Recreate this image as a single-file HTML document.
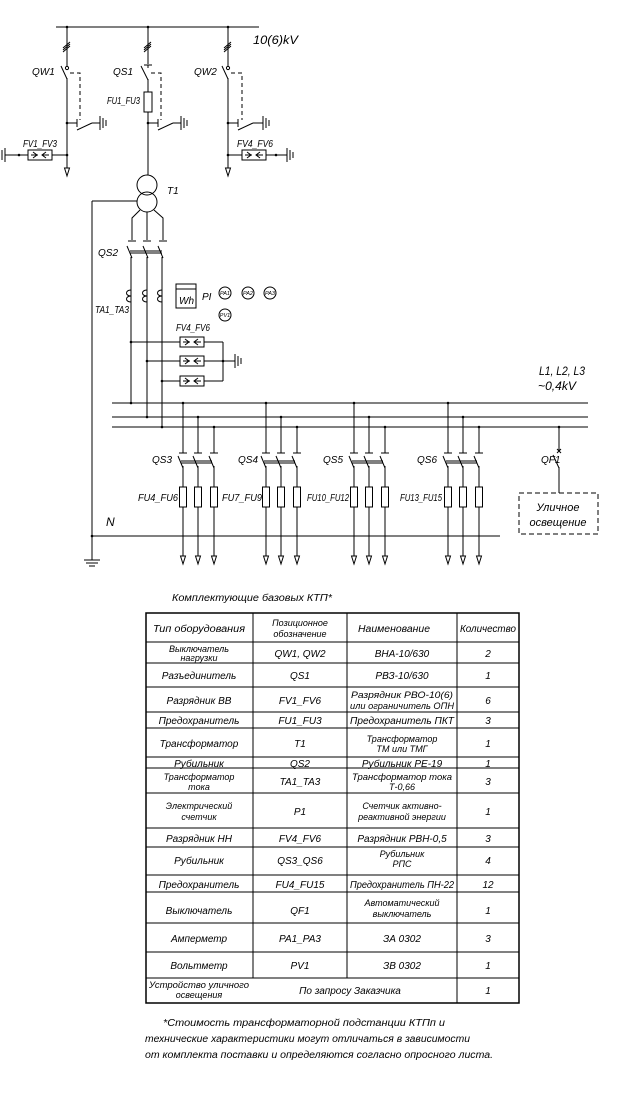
<!DOCTYPE html>
<html><head><meta charset="utf-8"><style>
html,body{margin:0;padding:0;background:#fff}
svg{display:block}
text{font-family:"Liberation Sans Narrow","Liberation Sans",sans-serif;font-style:italic;fill:#000}
</style></head><body>
<svg width="630" height="1100" viewBox="0 0 630 1100" xmlns="http://www.w3.org/2000/svg">
<defs>
<g id="gnd" stroke="#000" stroke-width="1" fill="none">
<line x1="0" y1="-7" x2="0" y2="7"/><line x1="3" y1="-5" x2="3" y2="5"/><line x1="6" y1="-3" x2="6" y2="3"/>
</g>
<g id="arr" stroke="#000" stroke-width="1" fill="none"><path d="M-2.5,-5 L0,3 L2.5,-5 Z"/></g>
<g id="fv" stroke="#000" stroke-width="1" fill="#fff">
<rect x="0" y="-5" width="24" height="10"/><path d="M5,-3 L9,0 L5,3 M18,-3 L14,0 L18,3" fill="none"/><line x1="3" y1="0" x2="10" y2="0"/><line x1="14" y1="0" x2="21" y2="0"/>
</g>
<g id="grp" stroke="#000" stroke-width="1" fill="none">
<path d="M0,403 L0,453 M15,417 L15,453 M31,427 L31,453"/>
<path d="M-4,453 L4,453 M11,453 L19,453 M27,453 L35,453"/>
<path d="M-5,456 L0,468 M10,456 L15,468 M26,456 L31,468"/>
<path d="M-2,461 L29,461 M-2,463 L29,463"/>
<path d="M0,466 L0,487 M15,466 L15,487 M31,466 L31,487"/>
<rect x="-3.5" y="487" width="7" height="20"/><rect x="11.5" y="487" width="7" height="20"/><rect x="27.5" y="487" width="7" height="20"/>
<path d="M0,507 L0,556 M15,507 L15,556 M31,507 L31,556"/>
<path d="M-2.5,556 L0,564 L2.5,556 Z M12.5,556 L15,564 L17.5,556 Z M28.5,556 L31,564 L33.5,556 Z"/>
</g>
</defs>
<g stroke="#000" stroke-width="1" fill="none">
<line x1="56" y1="27" x2="259" y2="27"/>
<line x1="67" y1="27" x2="67" y2="66"/>
<path d="M63,52 L70,46 M63,50 L70,44 M63,48 L70,42"/>
<circle cx="67" cy="68" r="1.6"/>
<line x1="61" y1="66" x2="67" y2="79"/>
<line x1="67" y1="78" x2="67" y2="168"/>
<path d="M70,73 L80,73 L80,120" stroke-dasharray="4,3"/>
<line x1="67" y1="123" x2="77" y2="123"/><line x1="77" y1="119" x2="77" y2="127"/>
<line x1="77" y1="130" x2="92" y2="123"/><line x1="92" y1="123" x2="100" y2="123"/>
<line x1="5" y1="155" x2="28" y2="155"/><line x1="52" y1="155" x2="67" y2="155"/>
<line x1="148" y1="27" x2="148" y2="64"/>
<path d="M144,52 L151,46 M144,50 L151,44 M144,48 L151,42"/>
<line x1="144" y1="65" x2="152" y2="65"/><line x1="148" y1="65" x2="148" y2="68"/>
<line x1="141" y1="66" x2="148" y2="80"/>
<line x1="148" y1="79" x2="148" y2="92"/>
<rect x="144" y="92" width="8" height="20"/>
<line x1="148" y1="112" x2="148" y2="175"/>
<path d="M151,73 L161,73 L161,120" stroke-dasharray="4,3"/>
<line x1="148" y1="123" x2="158" y2="123"/><line x1="158" y1="119" x2="158" y2="127"/>
<line x1="158" y1="130" x2="173" y2="123"/><line x1="173" y1="123" x2="181" y2="123"/>
<line x1="228" y1="27" x2="228" y2="66"/>
<path d="M224,52 L231,46 M224,50 L231,44 M224,48 L231,42"/>
<circle cx="228" cy="68" r="1.6"/>
<line x1="222" y1="66" x2="228" y2="79"/>
<line x1="228" y1="78" x2="228" y2="168"/>
<path d="M231,73 L242,73 L242,120" stroke-dasharray="4,3"/>
<line x1="228" y1="123" x2="238" y2="123"/><line x1="238" y1="119" x2="238" y2="127"/>
<line x1="238" y1="130" x2="253" y2="123"/><line x1="253" y1="123" x2="263" y2="123"/>
<line x1="228" y1="155" x2="242" y2="155"/><line x1="266" y1="155" x2="287" y2="155"/>
<circle cx="147" cy="185" r="10"/><circle cx="147" cy="202" r="10"/>
<line x1="92" y1="201" x2="137" y2="201"/>
<line x1="92" y1="201" x2="92" y2="560"/>
<path d="M84,560 L100,560 M86,563 L98,563 M89,566 L95,566"/>
<path d="M140,210 L132,218 L132,240 M147,212 L147,240 M154,210 L163,218 L163,240"/>
<path d="M128,241 L136,241 M143,241 L151,241 M159,241 L167,241"/>
<path d="M127,246 L132,258 M143,246 L148,258 M158,246 L163,258"/>
<path d="M130,251 L162,251 M130,253 L162,253"/>
<path d="M131,257 L131,403 M147,257 L147,417 M162,257 L162,427"/>
<path d="M131,290 C125,290 125,296 131,296 C125,296 125,302 131,302"/>
<path d="M147,290 C141,290 141,296 147,296 C141,296 141,302 147,302"/>
<path d="M162,290 C156,290 156,296 162,296 C156,296 156,302 162,302"/>
<rect x="176" y="284" width="20" height="24"/><line x1="176" y1="289" x2="196" y2="289"/>
<circle cx="225" cy="293" r="6"/><circle cx="248" cy="293" r="6"/><circle cx="270" cy="293" r="6"/><circle cx="225" cy="315" r="6"/>
<line x1="131" y1="342" x2="180" y2="342"/><line x1="204" y1="342" x2="223" y2="342"/>
<line x1="147" y1="361" x2="180" y2="361"/><line x1="204" y1="361" x2="235" y2="361"/>
<line x1="162" y1="381" x2="180" y2="381"/><line x1="204" y1="381" x2="223" y2="381"/>
<line x1="223" y1="342" x2="223" y2="381"/>
<line x1="112" y1="403" x2="588" y2="403"/>
<line x1="112" y1="417" x2="588" y2="417"/>
<line x1="112" y1="427" x2="588" y2="427"/>
<line x1="92" y1="536" x2="500" y2="536"/>
<line x1="559" y1="427" x2="559" y2="451"/>
<path d="M557,449 L561,453 M561,449 L557,453"/>
<line x1="553" y1="455" x2="559" y2="468"/>
<line x1="559" y1="467" x2="559" y2="493"/>
<rect x="519" y="493" width="79" height="41" stroke-dasharray="5,3"/>
</g>
<use href="#grp" transform="translate(183,0)"/>
<use href="#grp" transform="translate(266,0)"/>
<use href="#grp" transform="translate(354,0)"/>
<use href="#grp" transform="translate(448,0)"/>
<use href="#gnd" x="100" y="123"/><use href="#gnd" x="181" y="123"/><use href="#gnd" x="263" y="123"/>
<g transform="translate(5,155) scale(-1,1)"><use href="#gnd"/></g>
<use href="#gnd" x="287" y="155"/><use href="#gnd" x="235" y="361"/>
<use href="#fv" x="28" y="155"/><use href="#fv" x="242" y="155"/>
<use href="#fv" x="180" y="342"/><use href="#fv" x="180" y="361"/><use href="#fv" x="180" y="381"/>
<use href="#arr" x="67" y="173"/><use href="#arr" x="228" y="173"/>
<g fill="#000">
<circle cx="67" cy="27" r="1.3"/><circle cx="148" cy="27" r="1.3"/><circle cx="228" cy="27" r="1.3"/>
<circle cx="67" cy="123" r="1.3"/><circle cx="148" cy="123" r="1.3"/><circle cx="228" cy="123" r="1.3"/>
<circle cx="67" cy="155" r="1.3"/><circle cx="228" cy="155" r="1.3"/><circle cx="19" cy="155" r="1.3"/><circle cx="276" cy="155" r="1.3"/>
<circle cx="131" cy="342" r="1.3"/><circle cx="147" cy="361" r="1.3"/><circle cx="162" cy="381" r="1.3"/><circle cx="223" cy="361" r="1.3"/>
<circle cx="131" cy="403" r="1.3"/><circle cx="147" cy="417" r="1.3"/><circle cx="162" cy="427" r="1.3"/>
<circle cx="559" cy="427" r="1.3"/><circle cx="92" cy="536" r="1.3"/>
<circle cx="183" cy="403" r="1.3"/><circle cx="198" cy="417" r="1.3"/><circle cx="214" cy="427" r="1.3"/>
<circle cx="266" cy="403" r="1.3"/><circle cx="281" cy="417" r="1.3"/><circle cx="297" cy="427" r="1.3"/>
<circle cx="354" cy="403" r="1.3"/><circle cx="369" cy="417" r="1.3"/><circle cx="385" cy="427" r="1.3"/>
<circle cx="448" cy="403" r="1.3"/><circle cx="463" cy="417" r="1.3"/><circle cx="479" cy="427" r="1.3"/>
</g>
<g font-size="10">
<text x="253" y="44" font-size="12" textLength="45" lengthAdjust="spacingAndGlyphs">10(6)kV</text>
<text x="32" y="75">QW1</text><text x="113" y="75">QS1</text><text x="194" y="75">QW2</text>
<text x="107" y="104" textLength="33" lengthAdjust="spacingAndGlyphs">FU1_FU3</text>
<text x="23" y="147" textLength="34" lengthAdjust="spacingAndGlyphs">FV1_FV3</text><text x="237" y="147" textLength="36" lengthAdjust="spacingAndGlyphs">FV4_FV6</text>
<text x="167" y="194">T1</text>
<text x="98" y="256">QS2</text>
<text x="95" y="313" textLength="34" lengthAdjust="spacingAndGlyphs">TA1_TA3</text>
<text x="179" y="304" font-size="10">Wh</text>
<text x="202" y="300">PI</text>
<text x="176" y="331" textLength="34" lengthAdjust="spacingAndGlyphs">FV4_FV6</text>
<text x="539" y="375" font-size="12" textLength="46" lengthAdjust="spacingAndGlyphs">L1, L2, L3</text>
<text x="538" y="390" font-size="12" textLength="38" lengthAdjust="spacingAndGlyphs">~0,4kV</text>
<text x="152" y="463">QS3</text><text x="238" y="463">QS4</text><text x="323" y="463">QS5</text><text x="417" y="463">QS6</text>
<text x="541" y="463">QF1</text>
<text x="138" y="501" textLength="40" lengthAdjust="spacingAndGlyphs">FU4_FU6</text><text x="222" y="501" textLength="40" lengthAdjust="spacingAndGlyphs">FU7_FU9</text><text x="307" y="501" textLength="42" lengthAdjust="spacingAndGlyphs">FU10_FU12</text><text x="400" y="501" textLength="42" lengthAdjust="spacingAndGlyphs">FU13_FU15</text>
<text x="106" y="526" font-size="12">N</text>
<text x="558" y="511" text-anchor="middle" font-size="11">Уличное</text>
<text x="558" y="526" text-anchor="middle" font-size="11">освещение</text>
</g>
<g font-size="5.5" text-anchor="middle">
<text x="225" y="295">PA1</text><text x="248" y="295">PA2</text><text x="270" y="295">PA3</text><text x="225" y="317">PV1</text>
</g>
<text x="172" y="601" font-size="10" textLength="160" lengthAdjust="spacingAndGlyphs">Комплектующие базовых КТП*</text>
<g stroke="#000" fill="none">
<rect x="146" y="613" width="373" height="390" stroke-width="1.5"/>
<path d="M253,613 V978 M347,613 V978 M457,613 V1003" stroke-width="1"/>
<path d="M146,642 H519 M146,663 H519 M146,687 H519 M146,712 H519 M146,728 H519 M146,757 H519 M146,768 H519 M146,793 H519 M146,828 H519 M146,847 H519 M146,875 H519 M146,892 H519 M146,923 H519 M146,952 H519 M146,978 H519" stroke-width="1"/>
</g>
<g font-size="10" text-anchor="middle">
<text x="199" y="632" textLength="92" lengthAdjust="spacingAndGlyphs">Тип оборудования</text><text x="300" y="626" font-size="9">Позиционное</text><text x="300" y="637" font-size="9">обозначение</text><text x="394" y="632" textLength="72" lengthAdjust="spacingAndGlyphs">Наименование</text><text x="488" y="632" textLength="56" lengthAdjust="spacingAndGlyphs">Количество</text>
<text x="199" y="652" font-size="9">Выключатель</text><text x="199" y="661" font-size="9">нагрузки</text><text x="300" y="657">QW1, QW2</text><text x="402" y="657">ВНА-10/630</text><text x="488" y="657">2</text>
<text x="199" y="679">Разъединитель</text><text x="300" y="679">QS1</text><text x="402" y="679">РВЗ-10/630</text><text x="488" y="679">1</text>
<text x="199" y="704">Разрядник ВВ</text><text x="300" y="704">FV1_FV6</text><text x="402" y="698" font-size="9" textLength="102" lengthAdjust="spacingAndGlyphs">Разрядник РВО-10(6)</text><text x="402" y="709" font-size="9" textLength="104" lengthAdjust="spacingAndGlyphs">или ограничитель ОПН</text><text x="488" y="704">6</text>
<text x="199" y="724">Предохранитель</text><text x="300" y="724">FU1_FU3</text><text x="402" y="724" textLength="104" lengthAdjust="spacingAndGlyphs">Предохранитель ПКТ</text><text x="488" y="724">3</text>
<text x="199" y="747">Трансформатор</text><text x="300" y="747">T1</text><text x="402" y="742" font-size="9">Трансформатор</text><text x="402" y="752" font-size="9">ТМ или ТМГ</text><text x="488" y="747">1</text>
<text x="199" y="767">Рубильник</text><text x="300" y="767">QS2</text><text x="402" y="767">Рубильник РЕ-19</text><text x="488" y="767">1</text>
<text x="199" y="780" font-size="9">Трансформатор</text><text x="199" y="790" font-size="9">тока</text><text x="300" y="785">TA1_TA3</text><text x="402" y="780" font-size="9" textLength="100" lengthAdjust="spacingAndGlyphs">Трансформатор тока</text><text x="402" y="790" font-size="9">Т-0,66</text><text x="488" y="785">3</text>
<text x="199" y="809" font-size="9">Электрический</text><text x="199" y="820" font-size="9">счетчик</text><text x="300" y="815">P1</text><text x="402" y="809" font-size="9">Счетчик активно-</text><text x="402" y="820" font-size="9">реактивной энергии</text><text x="488" y="815">1</text>
<text x="199" y="842">Разрядник НН</text><text x="300" y="842">FV4_FV6</text><text x="402" y="842">Разрядник РВН-0,5</text><text x="488" y="842">3</text>
<text x="199" y="864">Рубильник</text><text x="300" y="864">QS3_QS6</text><text x="402" y="857" font-size="9">Рубильник</text><text x="402" y="867" font-size="9">РПС</text><text x="488" y="864">4</text>
<text x="199" y="888">Предохранитель</text><text x="300" y="888">FU4_FU15</text><text x="402" y="888" textLength="104" lengthAdjust="spacingAndGlyphs">Предохранитель ПН-22</text><text x="488" y="888">12</text>
<text x="199" y="914">Выключатель</text><text x="300" y="914">QF1</text><text x="402" y="906" font-size="9">Автоматический</text><text x="402" y="917" font-size="9">выключатель</text><text x="488" y="914">1</text>
<text x="199" y="942">Амперметр</text><text x="300" y="942">PA1_PA3</text><text x="402" y="942">ЗА 0302</text><text x="488" y="942">3</text>
<text x="199" y="969">Вольтметр</text><text x="300" y="969">PV1</text><text x="402" y="969">ЗВ 0302</text><text x="488" y="969">1</text>
<text x="199" y="988" font-size="9" textLength="100" lengthAdjust="spacingAndGlyphs">Устройство уличного</text><text x="199" y="998" font-size="9">освещения</text><text x="350" y="994">По запросу Заказчика</text><text x="488" y="994">1</text>
</g>
<g font-size="10">
<text x="163" y="1026" textLength="282" lengthAdjust="spacingAndGlyphs">*Стоимость трансформаторной подстанции КТПп  и</text>
<text x="145" y="1042" textLength="325" lengthAdjust="spacingAndGlyphs">технические характеристики могут отличаться в зависимости</text>
<text x="145" y="1058" textLength="348" lengthAdjust="spacingAndGlyphs">от комплекта поставки и определяются согласно опросного листа.</text>
</g>
</svg>
</body></html>
